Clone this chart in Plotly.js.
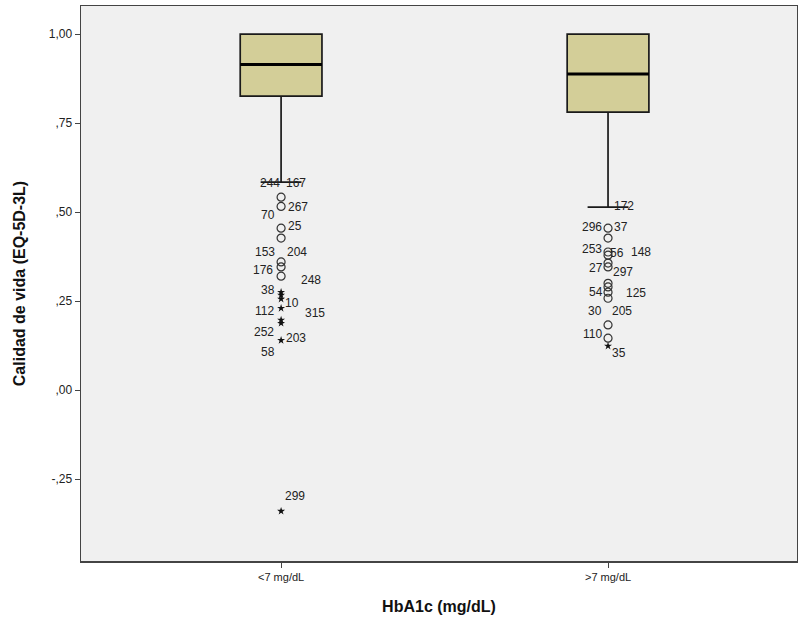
<!DOCTYPE html>
<html><head><meta charset="utf-8">
<script src="https://cdn.plot.ly/plotly-3.0.1.min.js"></script>
<style>body{margin:0;background:#fff}#chart{width:798px;height:623px}</style>
</head><body><div id="chart"></div>
<script>
// ---- data ----
const categories = ['<7 mg/dL', '>7 mg/dL'];
const q1 = [0.826, 0.781];
const median = [0.915, 0.888];
const q3 = [1.0, 1.0];
const lowerWhisker = [0.584, 0.514];
const upperWhisker = [1.0, 1.0];

const outliersA = [0.542, 0.516, 0.455, 0.427, 0.360, 0.346, 0.320];
const extremesA = [0.275, 0.267, 0.256, 0.230, 0.197, 0.188, 0.140, -0.340];
const outliersB = [0.455, 0.427, 0.388, 0.379, 0.357, 0.346, 0.300, 0.290, 0.275, 0.258, 0.183, 0.146];
const extremesB = [0.124];

const labelsA = ['244','167','267','70','25','153','204','176','248','38','10','112','315','252','203','58','299'];
const labelsAy = [0.581,0.581,0.514,0.492,0.461,0.388,0.388,0.337,0.309,0.281,0.244,0.222,0.216,0.163,0.146,0.107,-0.298];
const labelsB = ['172','296','37','253','56','148','27','297','54','125','30','205','110','35'];
const labelsBy = [0.517,0.458,0.458,0.396,0.385,0.388,0.343,0.331,0.275,0.272,0.222,0.222,0.157,0.104];

const yTickVals = [1.0, 0.75, 0.5, 0.25, 0.0, -0.25];
const yTickText = ['1,00', ',75', ',50', ',25', ',00', '-,25'];

// label pixel offsets (layout only)
const labelsAdx = [-11,15,17,-13,14,-16,16,-18,30,-13,11,-17,34,-17,15,-13,14];
const labelsBdx = [16,-16,13,-16,9,33,-12,15,-12,28,-13,14,-16,11];

// ---- build ----
const boxW = 0.25;
const traces = [];
for (let i = 0; i < categories.length; i++) {
  traces.push({
    type: 'box', x: [i], q1: [q1[i]], median: [median[i]], q3: [q3[i]],
    lowerfence: [lowerWhisker[i]], upperfence: [upperWhisker[i]],
    width: boxW, whiskerwidth: 0.5, fillcolor: '#D3CE98',
    line: {color: '#1a1a1a', width: 1.7}, boxpoints: false, hoverinfo: 'skip', showlegend: false
  });
  traces.push({
    type: 'scatter', mode: 'lines', x: [i - boxW/2, i + boxW/2], y: [median[i], median[i]],
    line: {color: '#000', width: 3}, hoverinfo: 'skip', showlegend: false
  });
}
const circ = {symbol: 'circle-open', size: 8, color: '#333', line: {width: 1.2, color: '#333'}};
const star = {symbol: 'star', size: 6, color: '#111'};
traces.push({type:'scatter', mode:'markers', x: outliersA.map(()=>0), y: outliersA, marker: circ, showlegend:false});
traces.push({type:'scatter', mode:'markers', x: extremesA.map(()=>0), y: extremesA, marker: star, showlegend:false});
traces.push({type:'scatter', mode:'markers', x: outliersB.map(()=>1), y: outliersB, marker: circ, showlegend:false});
traces.push({type:'scatter', mode:'markers', x: extremesB.map(()=>1), y: extremesB, marker: star, showlegend:false});

const annotations = [];
labelsA.forEach((t, k) => annotations.push({x: 0, y: labelsAy[k], text: t, xshift: labelsAdx[k], showarrow: false,
  font: {family: 'Liberation Sans, Arial', size: 12, color: '#222'}}));
labelsB.forEach((t, k) => annotations.push({x: 1, y: labelsBy[k], text: t, xshift: labelsBdx[k], showarrow: false,
  font: {family: 'Liberation Sans, Arial', size: 12, color: '#222'}}));

const layout = {
  width: 798, height: 623,
  margin: {l: 81, r: 1, t: 6, b: 62},
  paper_bgcolor: '#ffffff', plot_bgcolor: '#F0F0F0',
  font: {family: 'Liberation Sans, Arial', color: '#222'},
  showlegend: false,
  xaxis: {
    range: [-0.612, 1.578], tickvals: [0, 1], ticktext: categories,
    showgrid: false, zeroline: false, showline: true, linecolor: '#444', linewidth: 1.5, mirror: true,
    ticks: 'outside', ticklen: 5, tickcolor: '#444', tickfont: {size: 11, color: '#222'},
    title: {text: 'HbA1c (mg/dL)', font: {size: 16, color: '#111', family: 'Liberation Sans, Arial', weight: 'bold'}, standoff: 19}
  },
  yaxis: {
    range: [-0.48, 1.079], tickvals: yTickVals, ticktext: yTickText,
    showgrid: false, zeroline: false, showline: true, linecolor: '#444', linewidth: 1.5, mirror: true,
    ticks: 'outside', ticklen: 5, tickcolor: '#444', tickfont: {size: 12, color: '#222'},
    title: {text: 'Calidad de vida (EQ-5D-3L)', font: {size: 16, color: '#111', family: 'Liberation Sans, Arial', weight: 'bold'}, standoff: 19}
  },
  annotations: annotations
};
Plotly.newPlot('chart', traces, layout, {staticPlot: true, displayModeBar: false});
</script></body></html>
